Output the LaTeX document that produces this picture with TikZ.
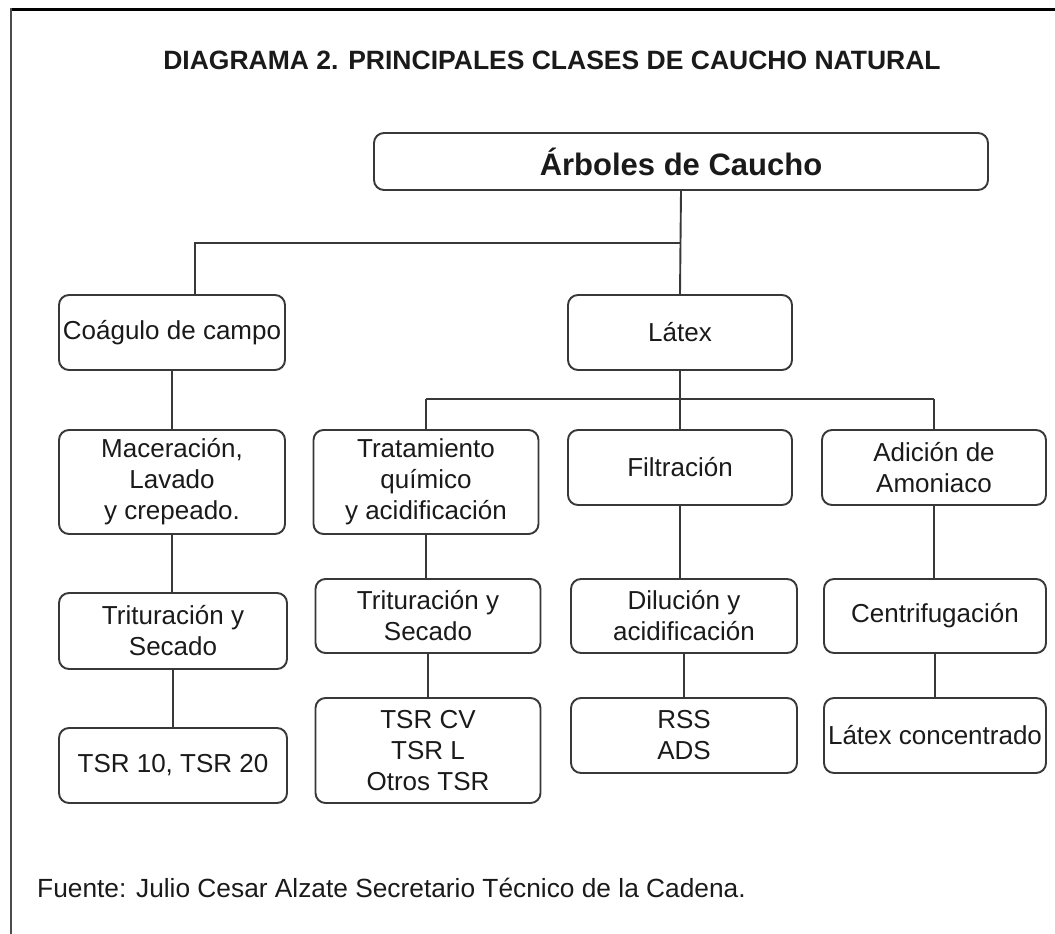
\documentclass[tikz,border=0pt]{standalone}
\usepackage{fontspec}
\setmainfont{Liberation Sans}
\definecolor{txt}{HTML}{1A1A1A}
\definecolor{edge}{HTML}{383838}
\tikzset{
  box/.style={draw=edge, line width=1.9pt, rounded corners=10pt, rectangle,
    inner sep=0pt, align=center, text=txt,
    font=\fontsize{26}{31}\selectfont},
  link/.style={draw=edge, line width=1.9pt},
}
\begin{document}
\begin{tikzpicture}[x=1pt,y=-1pt]
\useasboundingbox (0,0) rectangle (1055,934);
% frame
\draw[line width=2.6pt, black] (10,9.5) -- (1055,9.5);
\draw[line width=2pt, black!70] (11,8.5) -- (11,934);
% title
\node[text=txt, font=\fontsize{26.5}{31}\selectfont\bfseries] (title) at (552,60) {DIAGRAMA 2. PRINCIPALES CLASES DE CAUCHO NATURAL};
% root
\node[box, minimum width=614pt, minimum height=57pt, font=\fontsize{31}{36}\selectfont\bfseries] (root) at (681,161.5) {Árboles de Caucho};
% level 1
\node[box, minimum width=226pt, minimum height=75pt] (coag) at (172,332.5) {Coágulo de campo};
\node[box, minimum width=224pt, minimum height=75pt] (latex) at (680,332.5) {Látex};
% level 2
\node[box, minimum width=226pt, minimum height=104pt] (mac) at (172,482) {Maceración,\\Lavado\\y crepeado.};
\node[box, minimum width=225pt, minimum height=104pt] (trat) at (426,482) {Tratamiento\\químico\\y acidificación};
\node[box, minimum width=224pt, minimum height=75pt] (filt) at (680,467.5) {Filtración};
\node[box, minimum width=224pt, minimum height=75pt] (adic) at (934,467.5) {Adición de\\Amoniaco};
% level 3
\node[box, minimum width=228pt, minimum height=76pt] (trit1) at (173,631) {Trituración y\\Secado};
\node[box, minimum width=225pt, minimum height=74pt] (trit2) at (428,616) {Trituración y\\Secado};
\node[box, minimum width=226pt, minimum height=74pt] (dil) at (684,616) {Dilución y\\acidificación};
\node[box, minimum width=222pt, minimum height=74pt] (cent) at (935,616) {Centrifugación};
% level 4
\node[box, minimum width=228pt, minimum height=75pt] (tsr10) at (173,765.5) {TSR 10, TSR 20};
\node[box, minimum width=225pt, minimum height=105pt] (tsrcv) at (428,750.5) {TSR CV\\TSR L\\Otros TSR};
\node[box, minimum width=226pt, minimum height=75pt] (rss) at (684,735.5) {RSS\\ADS};
\node[box, minimum width=222pt, minimum height=75pt] (latc) at (935,735.5) {Látex concentrado};
% footer
\node[anchor=base west, text=txt, font=\fontsize{26.3}{31}\selectfont, inner sep=0pt] (foot) at (37,897) {Fuente: Julio Cesar Alzate Secretario Técnico de la Cadena.};
% connectors
\coordinate (bus1) at (681,243);
\coordinate (bus2) at (680,399);
\draw[link] (root.south) -- (latex.north);
\draw[link] (bus1) -- (bus1 -| 195,0) -- (coag.north -| 195,0);
\draw[link] (latex.south) -- (filt.north);
\draw[link] (bus2 -| trat.north) -- (bus2 -| adic.north);
\draw[link] (bus2 -| trat.north) -- (trat.north);
\draw[link] (bus2 -| adic.north) -- (adic.north);
\draw[link] (coag.south) -- (coag.south |- mac.north);
\draw[link] (mac.south) -- (mac.south |- trit1.north);
\draw[link] (trit1.south) -- (trit1.south |- tsr10.north);
\draw[link] (trat.south) -- (trat.south |- trit2.north);
\draw[link] (trit2.south) -- (trit2.south |- tsrcv.north);
\draw[link] (filt.south) -- (filt.south |- dil.north);
\draw[link] (dil.south) -- (dil.south |- rss.north);
\draw[link] (adic.south) -- (adic.south |- cent.north);
\draw[link] (cent.south) -- (cent.south |- latc.north);
\end{tikzpicture}
\end{document}
